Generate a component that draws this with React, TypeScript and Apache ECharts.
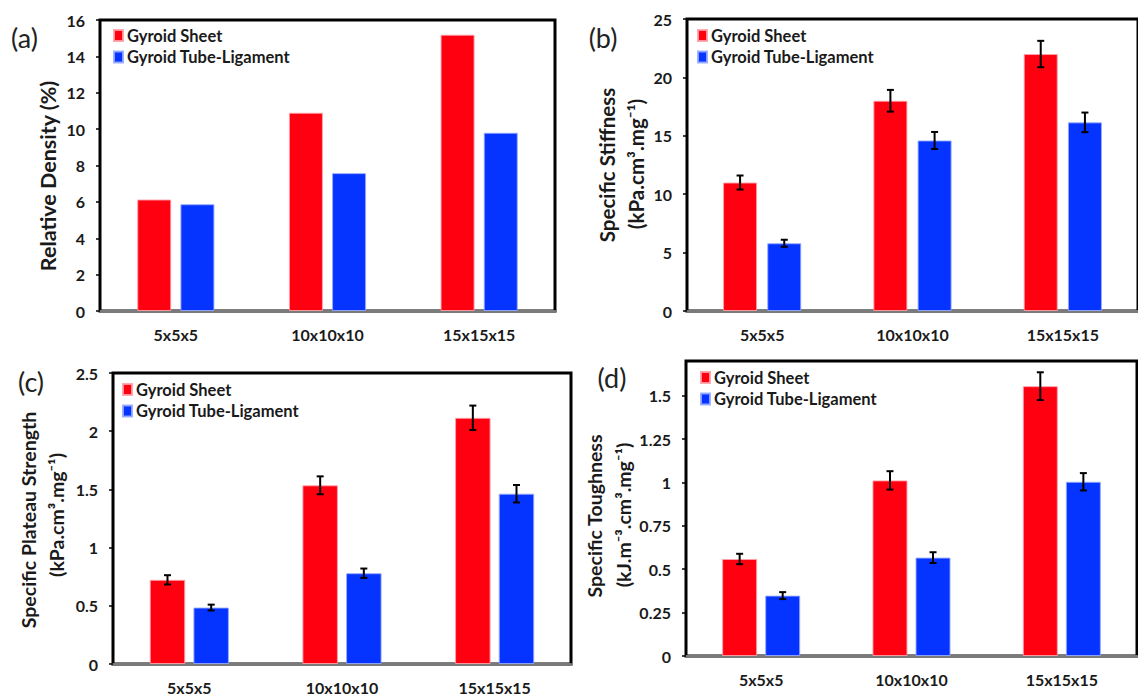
import React, { useEffect, useRef } from "react";
import * as echarts from "echarts";

// Cell sizes shared by all four panels
const categories = ["5x5x5", "10x10x10", "15x15x15"];
const seriesNames = ["Gyroid Sheet", "Gyroid Tube-Ligament"];

// (a) relative density, %
const densitySheet = [6.13, 10.9, 15.19];
const densityTube = [5.87, 7.58, 9.8];

// (b) specific stiffness, kPa.cm3.mg-1
const stiffnessSheet = [11.0, 18.0, 22.0];
const stiffnessSheetErr = [0.6, 0.93, 1.13];
const stiffnessTube = [5.8, 14.6, 16.15];
const stiffnessTubeErr = [0.3, 0.73, 0.84];

// (c) specific plateau strength, kPa.cm3.mg-1
const plateauSheet = [0.723, 1.535, 2.115];
const plateauSheetErr = [0.04, 0.077, 0.105];
const plateauTube = [0.485, 0.78, 1.463];
const plateauTubeErr = [0.025, 0.04, 0.075];

// (d) specific toughness, kJ.m-3.cm3.mg-1
const toughnessSheet = [0.559, 1.012, 1.555];
const toughnessSheetErr = [0.03, 0.053, 0.08];
const toughnessTube = [0.348, 0.567, 1.004];
const toughnessTubeErr = [0.02, 0.031, 0.05];

const RED = "#ff0010";
const BLUE = "#0533ff";
const INK = "#1a1a1a";
const FONT = "Lato, 'Open Sans', sans-serif";

type Panel = {
  grid: { left: number; top: number; width: number; height: number };
  yMax: number;
  yInterval: number;
  barWidth: number;
  barGap: number; // fraction of bar width
  sheet: number[];
  tube: number[];
  sheetErr?: number[];
  tubeErr?: number[];
  legend: { left: number; top: number };
};

const panels: Panel[] = [
  {
    grid: { left: 100, top: 20, width: 455, height: 291 },
    yMax: 16,
    yInterval: 2,
    barWidth: 34,
    barGap: 0.27,
    sheet: densitySheet,
    tube: densityTube,
    legend: { left: 113, top: 27 },
  },
  {
    grid: { left: 687, top: 19, width: 459, height: 292 },
    yMax: 25,
    yInterval: 5,
    barWidth: 34,
    barGap: 0.3,
    sheet: stiffnessSheet,
    tube: stiffnessTube,
    sheetErr: stiffnessSheetErr,
    tubeErr: stiffnessTubeErr,
    legend: { left: 697, top: 27 },
  },
  {
    grid: { left: 113, top: 373, width: 458, height: 292 },
    yMax: 2.5,
    yInterval: 0.5,
    barWidth: 35.5,
    barGap: 0.23,
    sheet: plateauSheet,
    tube: plateauTube,
    sheetErr: plateauSheetErr,
    tubeErr: plateauTubeErr,
    legend: { left: 122, top: 381 },
  },
  {
    grid: { left: 686, top: 361, width: 451, height: 295 },
    yMax: 1.7,
    yInterval: 0.25,
    barWidth: 35,
    barGap: 0.23,
    sheet: toughnessSheet,
    tube: toughnessTube,
    sheetErr: toughnessSheetErr,
    tubeErr: toughnessTubeErr,
    legend: { left: 700, top: 369 },
  },
];

function buildOption() {
  const grid: any[] = [];
  const xAxis: any[] = [];
  const yAxis: any[] = [];
  const series: any[] = [];
  const legend: any[] = [];

  panels.forEach((p, i) => {
    grid.push({
      ...p.grid,
      show: true,
      borderColor: "#000",
      borderWidth: 3,
      backgroundColor: "#fff",
    });
    xAxis.push({
      type: "category",
      gridIndex: i,
      data: categories,
      axisLine: { show: true, lineStyle: { color: "#7a7a7a", width: 3 } },
      axisTick: { show: false },
      axisLabel: {
        color: INK,
        fontFamily: FONT,
        fontWeight: "bold",
        fontSize: 16,
        margin: 15,
      },
    });
    yAxis.push({
      type: "value",
      gridIndex: i,
      min: 0,
      max: p.yMax,
      interval: p.yInterval,
      splitLine: { show: false },
      axisLine: { show: false },
      axisTick: { show: true, length: 4, lineStyle: { color: "#000", width: 1.5 } },
      axisLabel: {
        color: INK,
        fontFamily: FONT,
        fontWeight: "bold",
        fontSize: 16,
        margin: 15,
        showMaxLabel: p.yMax % p.yInterval === 0,
      },
    });

    const barCommon = {
      type: "bar",
      xAxisIndex: i,
      yAxisIndex: i,
      barWidth: p.barWidth,
      barGap: `${Math.round(p.barGap * 100)}%`,
      z: 2,
    };
    series.push({
      ...barCommon,
      name: seriesNames[0],
      data: p.sheet,
      itemStyle: { color: RED, borderColor: "rgba(255,160,170,0.9)", borderWidth: 1 },
    });
    series.push({
      ...barCommon,
      name: seriesNames[1],
      data: p.tube,
      itemStyle: { color: BLUE, borderColor: "rgba(150,170,255,0.9)", borderWidth: 1 },
    });

    if (p.sheetErr && p.tubeErr) {
      const shift = (p.barWidth + p.barGap * p.barWidth) / 2;
      const errData: number[][] = [];
      p.sheet.forEach((v, k) => errData.push([k, v, p.sheetErr![k], -1]));
      p.tube.forEach((v, k) => errData.push([k, v, p.tubeErr![k], 1]));
      series.push({
        type: "custom",
        xAxisIndex: i,
        yAxisIndex: i,
        z: 5,
        encode: { x: 0, y: 1 },
        data: errData,
        renderItem: (_params: any, api: any) => {
          const cat = api.value(0);
          const val = api.value(1);
          const err = api.value(2);
          const side = api.value(3);
          const hi = api.coord([cat, val + err]);
          const lo = api.coord([cat, val - err]);
          const cx = hi[0] + side * shift;
          const cap = 3.5;
          const style = { stroke: "#000", lineWidth: 2 };
          return {
            type: "group",
            children: [
              { type: "line", shape: { x1: cx, y1: hi[1], x2: cx, y2: lo[1] }, style },
              { type: "line", shape: { x1: cx - cap, y1: hi[1], x2: cx + cap, y2: hi[1] }, style },
              { type: "line", shape: { x1: cx - cap, y1: lo[1], x2: cx + cap, y2: lo[1] }, style },
            ],
          };
        },
      });
    }

    legend.push({
      data: seriesNames,
      orient: "vertical",
      left: p.legend.left,
      top: p.legend.top,
      padding: 0,
      itemWidth: 9,
      itemHeight: 11,
      itemGap: 4.5,
      icon: "rect",
      selectedMode: false,
      textStyle: {
        color: INK,
        fontFamily: FONT,
        fontWeight: "bold",
        fontSize: 16.5,
        padding: [0, 0, 0, -1],
      },
    });
  });

  const vText = (text: string, x: number, y: number, size: number) => ({
    type: "text",
    x,
    y,
    rotation: Math.PI / 2,
    style: {
      text,
      fill: INK,
      fontFamily: FONT,
      fontWeight: "bold",
      fontSize: size,
      align: "center",
      verticalAlign: "middle",
    },
    z: 10,
  });
  const letter = (text: string, x: number, y: number) => ({
    type: "text",
    x,
    y,
    style: {
      text,
      fill: "#222",
      fontFamily: FONT,
      fontSize: 27,
      align: "center",
      verticalAlign: "middle",
    },
    z: 10,
  });

  const graphic = [
    letter("(a)", 24.5, 37.5),
    letter("(b)", 603, 37.5),
    letter("(c)", 31, 381),
    letter("(d)", 612, 377),
    vText("Relative Density (%)", 48, 176, 21.5),
    vText("Specific Stiffness", 607, 165, 20.5),
    vText("(kPa.cm³.mg⁻¹)", 635.5, 164, 20.5),
    vText("Specific Plateau Strength", 28, 520, 19.5),
    vText("(kPa.cm³.mg⁻¹)", 56, 515, 19.5),
    vText("Specific Toughness", 594, 516, 19.5),
    vText("(kJ.m⁻³.cm³.mg⁻¹)", 623, 515, 19.5),
  ];

  return {
    animation: false,
    backgroundColor: "#fff",
    grid,
    xAxis,
    yAxis,
    series,
    legend,
    graphic,
  };
}

export default function App() {
  const ref = useRef<HTMLDivElement>(null);
  useEffect(() => {
    if (!ref.current) return;
    const chart = echarts.init(ref.current, undefined, { renderer: "svg" });
    chart.setOption(buildOption() as any);
    return () => chart.dispose();
  }, []);
  return (
    <div
      ref={ref}
      style={{ position: "fixed", left: 0, top: 0, width: 1138, height: 695, background: "#fff" }}
    />
  );
}
